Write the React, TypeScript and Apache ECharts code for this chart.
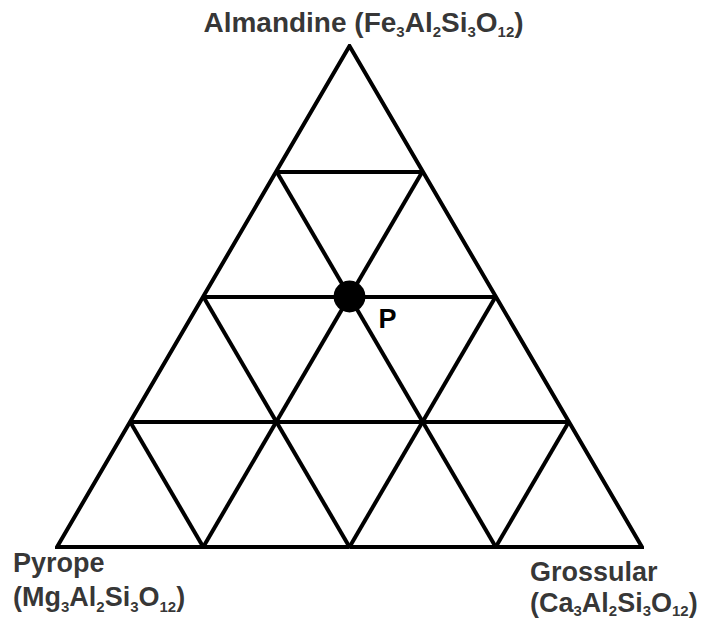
import React, { useEffect, useRef } from "react";
import * as echarts from "echarts";

// Ternary end-members (vertices): fractions of Fe (Almandine), Mg (Pyrope), Ca (Grossular)
const vertexNames = ["Almandine", "Pyrope", "Grossular"];
const vertexCations = ["Fe", "Mg", "Ca"];
const vertexFe = [1, 0, 0];
const vertexMg = [0, 1, 0];
const vertexCa = [0, 0, 1];

// Grid divisions (fraction of each end-member)
const gridFractions = [0.25, 0.5, 0.75];

// Plotted composition
const pointName = "P";
const pointFe = 0.5;
const pointMg = 0.25;
const pointCa = 0.25;

const toXY = (fe: number, mg: number, ca: number): [number, number] => [ca + fe / 2, fe];

const FONT = "'Liberation Sans', Arial, Helvetica, sans-serif";

function formulaRich(cation: string) {
  return `{b|(${cation}}{s|3}{b|Al}{s|2}{b|Si}{s|3}{b|O}{s|12}{b|)}`;
}

function richStyles(size: number, lh: number) {
  return {
    b: { fontFamily: FONT, fontWeight: "bold", fontSize: size, lineHeight: lh, color: "#000" },
    s: {
      fontFamily: FONT,
      fontWeight: "bold",
      fontSize: 15,
      lineHeight: 15,
      verticalAlign: "bottom",
      color: "#000",
    },
  };
}

export default function App() {
  const ref = useRef<HTMLDivElement>(null);

  useEffect(() => {
    if (!ref.current) return;
    const chart = echarts.init(ref.current, null, { renderer: "svg" });

    const A = toXY(vertexFe[0], vertexMg[0], vertexCa[0]);
    const P = toXY(vertexFe[1], vertexMg[1], vertexCa[1]);
    const G = toXY(vertexFe[2], vertexMg[2], vertexCa[2]);
    const midBottom: [number, number] = [(P[0] + G[0]) / 2, (P[1] + G[1]) / 2];
    const outline = [midBottom, G, A, P, midBottom];

    const gridSegments: { coords: [number, number][] }[] = [];
    gridFractions.forEach((f) => {
      // constant Fe
      gridSegments.push({ coords: [toXY(f, 1 - f, 0), toXY(f, 0, 1 - f)] });
      // constant Ca
      gridSegments.push({ coords: [toXY(0, 1 - f, f), toXY(1 - f, 0, f)] });
      // constant Mg
      gridSegments.push({ coords: [toXY(0, f, 1 - f), toXY(1 - f, f, 0)] });
    });

    const vertexLabels = [
      {
        value: A,
        label: {
          position: "top",
          distance: 0,
          align: "center",
          offset: [14, -7],
          formatter: `{b|${vertexNames[0]} }` + formulaRich(vertexCations[0]),
          rich: richStyles(28, 34),
        },
      },
      {
        value: P,
        label: {
          position: "bottom",
          distance: 0,
          align: "left",
          offset: [-44, -1],
          formatter: `{b|${vertexNames[1]}}\n` + formulaRich(vertexCations[1]),
          rich: richStyles(27, 34),
        },
      },
      {
        value: G,
        label: {
          position: "bottom",
          distance: 0,
          align: "left",
          offset: [-112, 9],
          formatter: `{b|${vertexNames[2]}}\n` + formulaRich(vertexCations[2]),
          rich: richStyles(27, 31),
        },
      },
    ];

    chart.setOption({
      animation: false,
      backgroundColor: "#fff",
      grid: { left: 57, right: 60, top: 46, bottom: 78 },
      xAxis: { type: "value", min: 0, max: 1, show: false },
      yAxis: { type: "value", min: 0, max: 1, show: false },
      series: [
        {
          type: "line",
          data: outline,
          symbol: "none",
          lineStyle: { color: "#000", width: 4, join: "miter" },
          silent: true,
          z: 2,
        },
        {
          type: "lines",
          coordinateSystem: "cartesian2d",
          data: gridSegments,
          lineStyle: { color: "#000", width: 4, opacity: 1 },
          silent: true,
          z: 2,
        },
        {
          type: "scatter",
          data: vertexLabels,
          symbolSize: 0,
          label: { show: true, color: "#000" },
          silent: true,
          z: 3,
        },
        {
          type: "scatter",
          data: [{ value: toXY(pointFe, pointMg, pointCa), name: pointName }],
          symbolSize: 32,
          itemStyle: { color: "#000", opacity: 1 },
          label: {
            show: true,
            position: "right",
            distance: 5,
            align: "left",
            offset: [8, 22],
            formatter: "{b}",
            fontFamily: FONT,
            fontWeight: "bold",
            fontSize: 27,
            color: "#000",
          },
          silent: true,
          z: 10,
        },
      ],
    });

    return () => chart.dispose();
  }, []);

  return (
    <div
      ref={ref}
      style={{ position: "fixed", left: 0, top: 0, width: 702, height: 625, background: "#fff" }}
    />
  );
}
